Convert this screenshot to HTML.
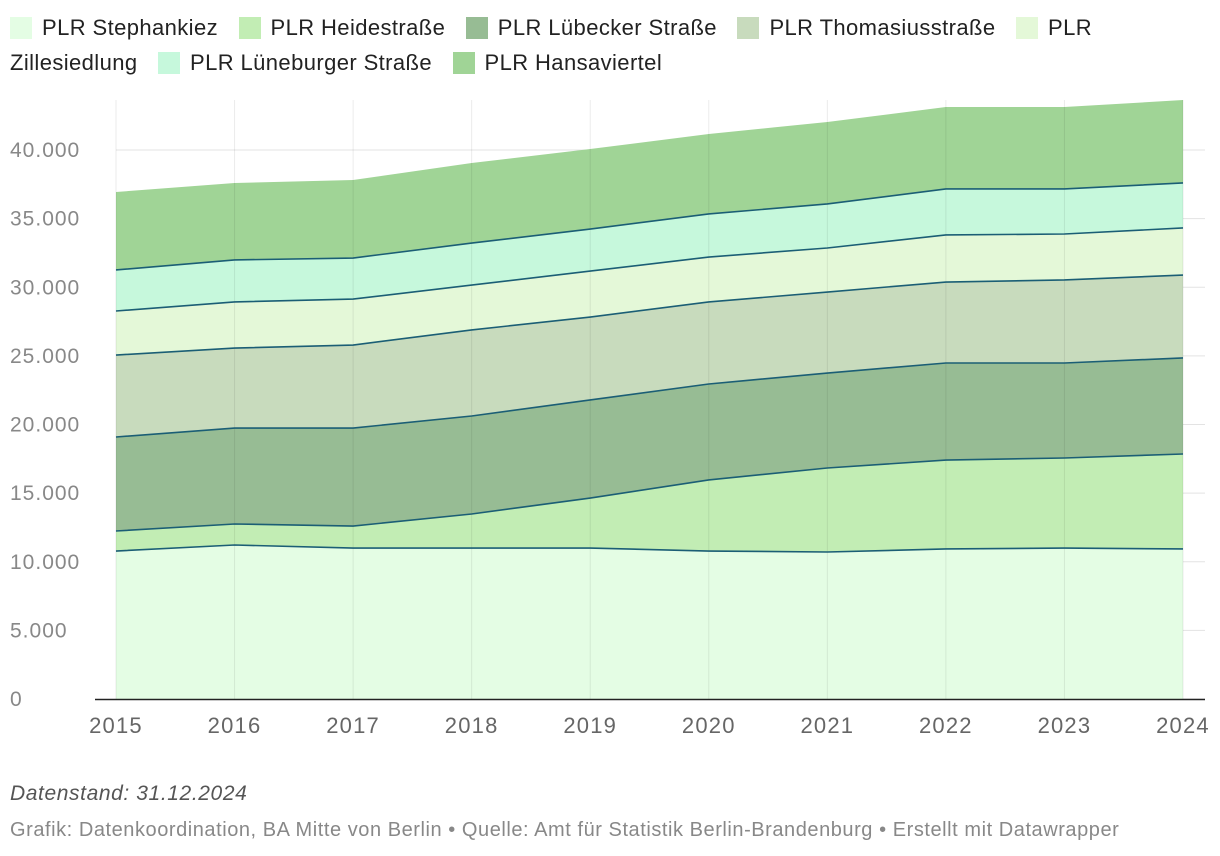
<!DOCTYPE html>
<html><head><meta charset="utf-8">
<style>
body{margin:0;width:1220px;height:856px;background:#fff;font-family:"Liberation Sans",sans-serif;overflow:hidden}
.legend{position:absolute;left:10px;top:10px;width:1200px;font-size:22px;letter-spacing:0.4px;color:#222;line-height:35px}
.li{display:inline-block;margin-right:14px;white-space:nowrap}
.sw{display:inline-block;width:22px;height:22px;vertical-align:-4px;margin-right:10px}
.foot1{position:absolute;left:10px;top:782px;font-size:21px;letter-spacing:0.6px;font-style:italic;color:#555}
.foot2{position:absolute;left:10px;top:819px;font-size:20px;letter-spacing:0.55px;color:#888}
</style></head><body>
<div class="legend">
<span class="li"><span class="sw" style="background:#e4fde4"></span>PLR Stephankiez</span>
<span class="li"><span class="sw" style="background:#c2edb4"></span>PLR Heidestraße</span>
<span class="li"><span class="sw" style="background:#97bc94"></span>PLR Lübecker Straße</span>
<span class="li"><span class="sw" style="background:#c8dbbd"></span>PLR Thomasiusstraße</span>
<span><span class="sw" style="background:#e4f8d8"></span>PLR Zillesiedlung</span>
<span class="li" style="margin-left:14px"><span class="sw" style="background:#c6f8dc"></span>PLR Lüneburger Straße</span>
<span class="li"><span class="sw" style="background:#a0d496"></span>PLR Hansaviertel</span>
</div>
<svg id="chart" width="1220" height="856" style="position:absolute;left:0;top:0"></svg>
<div class="foot1">Datenstand: 31.12.2024</div>
<div class="foot2">Grafik: Datenkoordination, BA Mitte von Berlin • Quelle: Amt für Statistik Berlin-Brandenburg • Erstellt mit Datawrapper</div>
<script>
const years=[2015,2016,2017,2018,2019,2020,2021,2022,2023,2024];
const yTicks=[0,5000,10000,15000,20000,25000,30000,35000,40000];
const sStephankiez=[10780,11220,11000,11000,11000,10780,10710,10930,11000,10930];
const sHeidestrasse=[1460,1530,1600,2480,3640,5180,6120,6480,6560,6920];
const sLuebecker=[6850,6990,7140,7140,7150,6990,6920,7070,6920,7000];
const sThomasius=[5970,5830,6050,6270,6040,5980,5900,5900,6050,6040];
const sZille=[3210,3360,3350,3270,3350,3270,3210,3430,3350,3430];
const sLueneburger=[2990,3060,2990,3060,3060,3140,3210,3350,3280,3280];
const sHansa=[5680,5610,5680,5830,5830,5830,5970,5970,5970,6040];
const series=[sStephankiez,sHeidestrasse,sLuebecker,sThomasius,sZille,sLueneburger,sHansa];
const names=['stephankiez','heidestrasse','luebecker','thomasius','zillesiedlung','lueneburger','hansaviertel'];
const colors=['#e4fde4','#c2edb4','#97bc94','#c8dbbd','#e4f8d8','#c6f8dc','#a0d496'];
const svg=document.getElementById('chart');const NS='http://www.w3.org/2000/svg';
const x=i=>116+(1183-116)*i/(years.length-1);
const y=v=>699-(699-150)*v/40000;
function el(t,a){const e=document.createElementNS(NS,t);for(const k in a)e.setAttribute(k,a[k]);svg.appendChild(e);return e;}
yTicks.forEach(t=>{
 const g=el('line',{x1:116,x2:1205,y1:y(t),y2:y(t),stroke:'#e3e3e3','stroke-width':1});
 
 
 const tx=el('text',{x:10,y:y(t)+7,'font-size':21,'letter-spacing':1,fill:'#888','font-family':'Liberation Sans'});
 tx.textContent=t.toLocaleString('de-DE');
 
 
});
let base=years.map(()=>0);const tops=[];
series.forEach((s,k)=>{
 const top=s.map((v,i)=>base[i]+v);
 let d='M'+years.map((_,i)=>x(i)+','+y(top[i])).join('L');
 for(let i=years.length-1;i>=0;i--)d+='L'+x(i)+','+y(base[i]);
 const p=el('path',{d:d+'Z',fill:colors[k]});
 
 
 tops.push(top);base=top;
});
years.forEach((yr,i)=>{
 const g=el('line',{x1:x(i),x2:x(i),y1:100,y2:699,stroke:'#000','stroke-opacity':0.08});
 
 
 const tx=el('text',{x:x(i),y:733,'font-size':22,'letter-spacing':1.2,fill:'#666','text-anchor':'middle','font-family':'Liberation Sans'});
 tx.textContent=yr;
 
 
});
tops.slice(0,6).forEach((top,k)=>{
 const l=el('polyline',{points:years.map((_,i)=>x(i)+','+y(top[i])).join(' '),fill:'none',stroke:'#1b5e75','stroke-width':1.6});
 
 
});
const ax=el('line',{x1:95,x2:1205,y1:699.5,y2:699.5,stroke:'#222','stroke-width':1.5});


</script>
</body></html>
